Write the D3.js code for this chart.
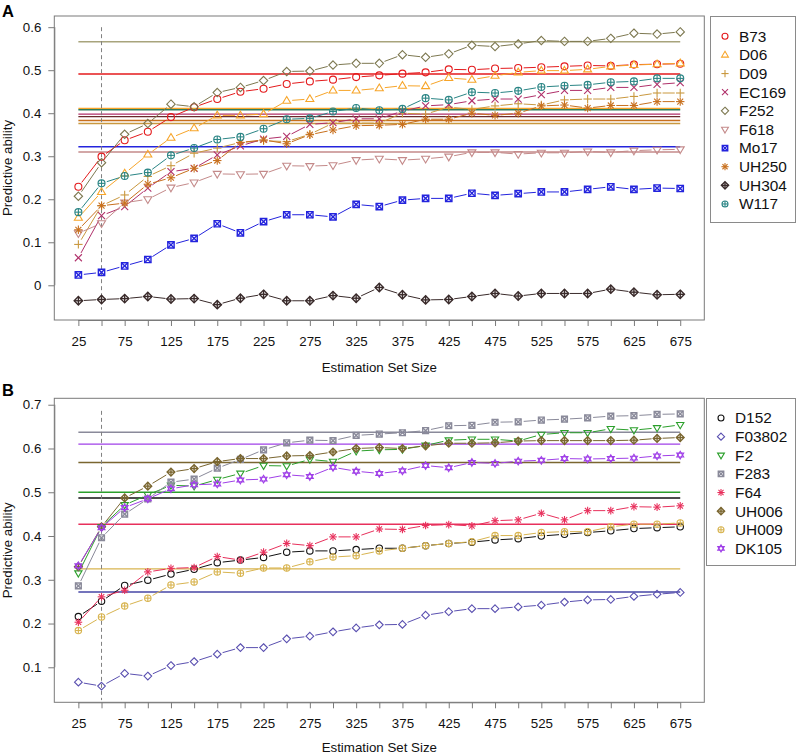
<!DOCTYPE html>
<html><head><meta charset="utf-8">
<script src="https://cdn.jsdelivr.net/npm/d3@7"></script>
<style>body{margin:0;background:#fff}svg{display:block}text{font-family:"Liberation Sans",Arial,sans-serif}</style>
</head><body>
<svg id="c" width="797" height="755"></svg>
<script>
// ---------- data ----------
const sizes = [25,50,75,100,125,150,175,200,225,250,275,300,325,350,375,400,425,450,475,500,525,550,575,600,625,650,675];
const xLabels = [25,75,125,175,225,275,325,375,425,475,525,575,625,675];
const yTicksA = [0,0.1,0.2,0.3,0.4,0.5,0.6];
const yTicksB = [0.1,0.2,0.3,0.4,0.5,0.6,0.7];

// Panel A series
const B73   = [0.229,0.299,0.337,0.357,0.391,0.414,0.433,0.450,0.457,0.468,0.474,0.478,0.484,0.488,0.492,0.495,0.502,0.501,0.504,0.505,0.507,0.509,0.511,0.510,0.513,0.514,0.515];
const D06   = [0.157,0.217,0.260,0.304,0.343,0.365,0.395,0.395,0.398,0.429,0.433,0.453,0.453,0.458,0.464,0.463,0.482,0.478,0.487,0.495,0.499,0.499,0.502,0.509,0.512,0.514,0.516];
const D09   = [0.095,0.185,0.210,0.253,0.278,0.307,0.319,0.332,0.336,0.334,0.351,0.377,0.377,0.377,0.400,0.398,0.414,0.409,0.417,0.422,0.419,0.431,0.433,0.433,0.439,0.447,0.447];
const EC169 = [0.064,0.162,0.183,0.226,0.264,0.272,0.303,0.324,0.340,0.346,0.374,0.378,0.387,0.387,0.405,0.417,0.420,0.429,0.433,0.433,0.443,0.453,0.453,0.460,0.460,0.467,0.471];
const F252  = [0.207,0.285,0.351,0.376,0.421,0.415,0.448,0.460,0.476,0.497,0.498,0.512,0.516,0.516,0.536,0.530,0.538,0.558,0.555,0.561,0.569,0.567,0.567,0.574,0.586,0.584,0.589];
const F618  = [0.121,0.144,0.192,0.200,0.227,0.239,0.259,0.258,0.259,0.278,0.277,0.279,0.291,0.294,0.291,0.294,0.299,0.309,0.309,0.305,0.308,0.308,0.311,0.309,0.313,0.315,0.316];
const Mo17  = [0.024,0.030,0.045,0.060,0.094,0.109,0.143,0.122,0.148,0.164,0.164,0.159,0.188,0.183,0.198,0.202,0.202,0.214,0.209,0.213,0.217,0.217,0.223,0.229,0.223,0.226,0.225];
const UH250 = [0.129,0.185,0.191,0.235,0.250,0.272,0.290,0.332,0.338,0.329,0.350,0.361,0.371,0.372,0.374,0.386,0.386,0.400,0.395,0.400,0.417,0.419,0.412,0.418,0.418,0.427,0.427];
const UH304 = [-0.036,-0.033,-0.031,-0.026,-0.032,-0.031,-0.045,-0.030,-0.021,-0.036,-0.036,-0.024,-0.030,-0.005,-0.022,-0.034,-0.033,-0.026,-0.019,-0.025,-0.019,-0.019,-0.019,-0.009,-0.016,-0.022,-0.021];
const W117  = [0.170,0.237,0.254,0.262,0.302,0.319,0.339,0.345,0.364,0.386,0.388,0.404,0.412,0.407,0.410,0.435,0.431,0.449,0.447,0.452,0.461,0.464,0.466,0.472,0.474,0.481,0.481];
const namesA = ["B73","D06","D09","EC169","F252","F618","Mo17","UH250","UH304","W117"];
const baselineA = [0.491,0.411,0.376,0.398,0.566,0.310,0.322,0.383,0.392,0.408];

// Panel B series
const D152   = [0.216,0.251,0.287,0.299,0.313,0.324,0.339,0.345,0.351,0.363,0.366,0.366,0.369,0.372,0.372,0.378,0.383,0.386,0.391,0.394,0.400,0.404,0.408,0.412,0.417,0.419,0.421];
const F03802 = [0.066,0.057,0.086,0.080,0.104,0.113,0.130,0.145,0.145,0.165,0.171,0.181,0.190,0.197,0.198,0.219,0.227,0.234,0.234,0.238,0.242,0.249,0.254,0.255,0.262,0.267,0.271];
const F2     = [0.315,0.421,0.471,0.494,0.516,0.514,0.529,0.543,0.561,0.560,0.575,0.570,0.594,0.597,0.598,0.607,0.619,0.621,0.621,0.617,0.632,0.636,0.636,0.645,0.642,0.647,0.654];
const F283   = [0.286,0.396,0.450,0.485,0.523,0.530,0.555,0.575,0.597,0.613,0.619,0.618,0.630,0.633,0.636,0.641,0.652,0.653,0.660,0.661,0.665,0.667,0.670,0.674,0.675,0.678,0.679];
const F64    = [0.203,0.261,0.276,0.318,0.326,0.328,0.353,0.345,0.363,0.383,0.378,0.398,0.398,0.416,0.415,0.424,0.426,0.423,0.435,0.437,0.452,0.437,0.458,0.458,0.467,0.466,0.469];
const UH006  = [0.330,0.421,0.487,0.514,0.546,0.554,0.570,0.577,0.577,0.583,0.584,0.592,0.600,0.602,0.600,0.606,0.612,0.612,0.613,0.617,0.618,0.618,0.618,0.618,0.619,0.623,0.625];
const UH009  = [0.184,0.215,0.240,0.258,0.288,0.295,0.318,0.315,0.327,0.327,0.341,0.352,0.355,0.366,0.372,0.378,0.383,0.387,0.401,0.401,0.408,0.410,0.410,0.421,0.427,0.427,0.430];
const DK105  = [0.332,0.419,0.465,0.485,0.508,0.517,0.519,0.528,0.530,0.540,0.536,0.557,0.548,0.543,0.549,0.561,0.556,0.568,0.566,0.571,0.573,0.577,0.576,0.577,0.578,0.583,0.585];
const namesB = ["D152","F03802","F2","F283","F64","UH006","UH009","DK105"];
const baselineB = [0.487,0.272,0.500,0.637,0.427,0.568,0.325,0.610];

// ---------- styles ----------
const styleA = {
  B73:{c:"#e41a1c",p:1}, D06:{c:"#f7a52a",p:2}, D09:{c:"#c9983f",p:3}, EC169:{c:"#b0306a",p:4},
  F252:{c:"#7d7850",p:5,h:"#a8a47c"}, F618:{c:"#c48a8a",p:6}, Mo17:{c:"#2424dd",p:7},
  UH250:{c:"#c8701e",p:8}, UH304:{c:"#3a2b2b",p:9,h:"#6a2a2a"}, W117:{c:"#2a8585",p:10,h:"#2f7d5a"}
};
const styleB = {
  D152:{c:"#111111",p:1}, F03802:{c:"#5a50b0",p:5,h:"#4646a6"}, F2:{c:"#2ca02c",p:6}, F283:{c:"#8a8a9a",p:7},
  F64:{c:"#e8305c",p:8}, UH006:{c:"#7a6630",p:9}, UH009:{c:"#d8b450",p:10}, DK105:{c:"#a040e8",p:11}
};
const dataA = {B73,D06,D09,EC169,F252,F618,Mo17,UH250,UH304,W117};
const dataB = {D152,F03802,F2,F283,F64,UH006,UH009,DK105};

const svg = d3.select("#c");

function marker(g, p, cx, cy, s, col){
  const sw = (p===7||p===9) ? 1.4 : 1.1;
  const a = g.append("g").attr("fill","none").attr("stroke",col).attr("stroke-width",sw);
  const line=(x1,y1,x2,y2)=>a.append("line").attr("x1",cx+x1).attr("y1",cy+y1).attr("x2",cx+x2).attr("y2",cy+y2);
  const poly=pts=>a.append("polygon").attr("points",pts.map(q=>[cx+q[0],cy+q[1]].join(",")).join(" "));
  const t = s*1.2;
  switch(p){
    case 1: a.append("circle").attr("cx",cx).attr("cy",cy).attr("r",s); break;
    case 2: poly([[0,-t],[t*0.95,t*0.6],[-t*0.95,t*0.6]]); break;
    case 3: line(-t,0,t,0); line(0,-t,0,t); break;
    case 4: line(-s,-s,s,s); line(-s,s,s,-s); break;
    case 5: poly([[0,-t],[t,0],[0,t],[-t,0]]); break;
    case 6: poly([[0,t],[t*0.95,-t*0.6],[-t*0.95,-t*0.6]]); break;
    case 7: { const q=s*0.9; poly([[-q,-q],[q,-q],[q,q],[-q,q]]); line(-q,-q,q,q); line(-q,q,q,-q); break; }
    case 8: line(-t,0,t,0); line(0,-t,0,t); line(-s*0.85,-s*0.85,s*0.85,s*0.85); line(-s*0.85,s*0.85,s*0.85,-s*0.85); break;
    case 9: poly([[0,-t],[t,0],[0,t],[-t,0]]); line(-t,0,t,0); line(0,-t,0,t); break;
    case 10: a.append("circle").attr("cx",cx).attr("cy",cy).attr("r",s); line(-s,0,s,0); line(0,-s,0,s); break;
    case 11: poly([[0,-t],[t*0.9,t*0.5],[-t*0.9,t*0.5]]); poly([[0,t],[t*0.9,-t*0.5],[-t*0.9,-t*0.5]]); break;
  }
}

function panel(o){
  const g = svg.append("g");
  const x = d3.scaleLinear().domain([-1,701]).range([54.3,704.3]);
  const y = d3.scaleLinear().domain(o.ydom).range([o.bottom,o.top]);
  // box
  g.append("rect").attr("x",54.3).attr("y",o.top).attr("width",650).attr("height",o.bottom-o.top)
    .attr("fill","none").attr("stroke","#7a7a7a").attr("stroke-width",1);
  // axes
  const ax = g.append("g").attr("transform",`translate(0,${o.bottom})`)
    .call(d3.axisBottom(x).tickValues(sizes).tickSize(6).tickPadding(10.5).tickFormat(d=>xLabels.includes(d)?d:""));
  ax.select(".domain").attr("stroke","#7a7a7a").attr("d",`M${x(25)},0.5H${x(675)}`);
  ax.selectAll(".tick line").attr("stroke","#7a7a7a");
  ax.selectAll("text").attr("font-size","13.3px").attr("fill","#111").attr("font-family","Liberation Sans, Arial, sans-serif");
  const ay = g.append("g").attr("transform","translate(54.3,0)")
    .call(d3.axisLeft(y).tickValues(o.yticks).tickSize(6).tickPadding(7).tickFormat(d=>d===0?"0":d3.format(".1f")(d)));
  ay.select(".domain").attr("stroke","#7a7a7a").attr("d",`M0.5,${y(o.yticks[0])}V${y(o.yticks[o.yticks.length-1])}`);
  ay.selectAll(".tick line").attr("stroke","#7a7a7a");
  ay.selectAll("text").attr("font-size","13.3px").attr("fill","#111").attr("font-family","Liberation Sans, Arial, sans-serif");
  // titles
  g.append("text").attr("x",(54.3+704.3)/2).attr("y",o.titleY).attr("text-anchor","middle")
    .attr("font-size","13.3px").attr("fill","#111").text("Estimation Set Size");
  g.append("text").attr("transform",`translate(11.7,${(o.top+o.bottom)/2}) rotate(-90)`).attr("text-anchor","middle")
    .attr("font-size","13.3px").attr("fill","#111").text("Predictive ability");
  g.append("text").attr("x",2).attr("y",o.labelY).attr("font-size","16.5px").attr("font-weight","bold")
    .attr("fill","#000").text(o.label);
  // baseline lines
  o.names.forEach((n,i)=>{
    g.append("line").attr("x1",x(25)).attr("x2",x(675)).attr("y1",y(o.base[i])).attr("y2",y(o.base[i]))
      .attr("stroke",o.style[n].h||o.style[n].c).attr("stroke-width",1.4);
  });
  // dashed vertical
  g.append("line").attr("x1",x(50)).attr("x2",x(50)).attr("y1",y(o.dash[0])).attr("y2",y(o.dash[1]))
    .attr("stroke","#808080").attr("stroke-width",1).attr("stroke-dasharray","4,3");
  // series (type "b")
  const gap = 5.5;
  o.names.forEach(n=>{
    const vals=o.data[n], st=o.style[n];
    const pts = vals.map((v,i)=>[x(sizes[i]),y(v)]);
    for(let i=0;i<pts.length-1;i++){
      const [x1,y1]=pts[i],[x2,y2]=pts[i+1];
      const dx=x2-x1, dy=y2-y1, L=Math.hypot(dx,dy);
      if(L>2*gap){
        const ux=dx/L, uy=dy/L;
        g.append("line").attr("x1",x1+ux*gap).attr("y1",y1+uy*gap).attr("x2",x2-ux*gap).attr("y2",y2-uy*gap)
          .attr("stroke",st.c).attr("stroke-width",1);
      }
    }
    pts.forEach(p=>marker(g,st.p,p[0],p[1],o.ms,st.c));
  });
  // legend
  const lg = svg.append("g");
  lg.append("rect").attr("x",o.leg.x).attr("y",o.leg.y).attr("width",o.leg.w).attr("height",o.leg.h)
    .attr("fill","#fff").attr("stroke","#8a8a8a").attr("stroke-width",1);
  o.names.forEach((n,i)=>{
    const cy=o.leg.y0+i*18.63;
    marker(lg,o.style[n].p,o.leg.sx,cy,3.0,o.style[n].c);
    lg.append("text").attr("x",o.leg.tx).attr("y",cy+5.4).attr("font-size","15.4px").attr("fill","#111").text(n);
  });
}

panel({label:"A",labelY:16.7,titleY:372.3,top:16,bottom:320,ydom:[-0.0807,0.626],yticks:yTicksA,names:namesA,data:dataA,style:styleA,
  base:baselineA,dash:[0.6,-0.057],ms:3.5,
  leg:{x:710.5,y:16.5,w:85,h:206,y0:36.3,sx:725,tx:739}});
panel({label:"B",labelY:396,titleY:751.8,top:398.3,bottom:702.3,ydom:[0.020,0.7147],yticks:yTicksB,names:namesB,data:dataB,style:styleB,
  base:baselineB,dash:[0.686,0.025],ms:3.2,
  leg:{x:706.5,y:398.5,w:89,h:167,y0:418,sx:721,tx:735}});
</script>
</body></html>
